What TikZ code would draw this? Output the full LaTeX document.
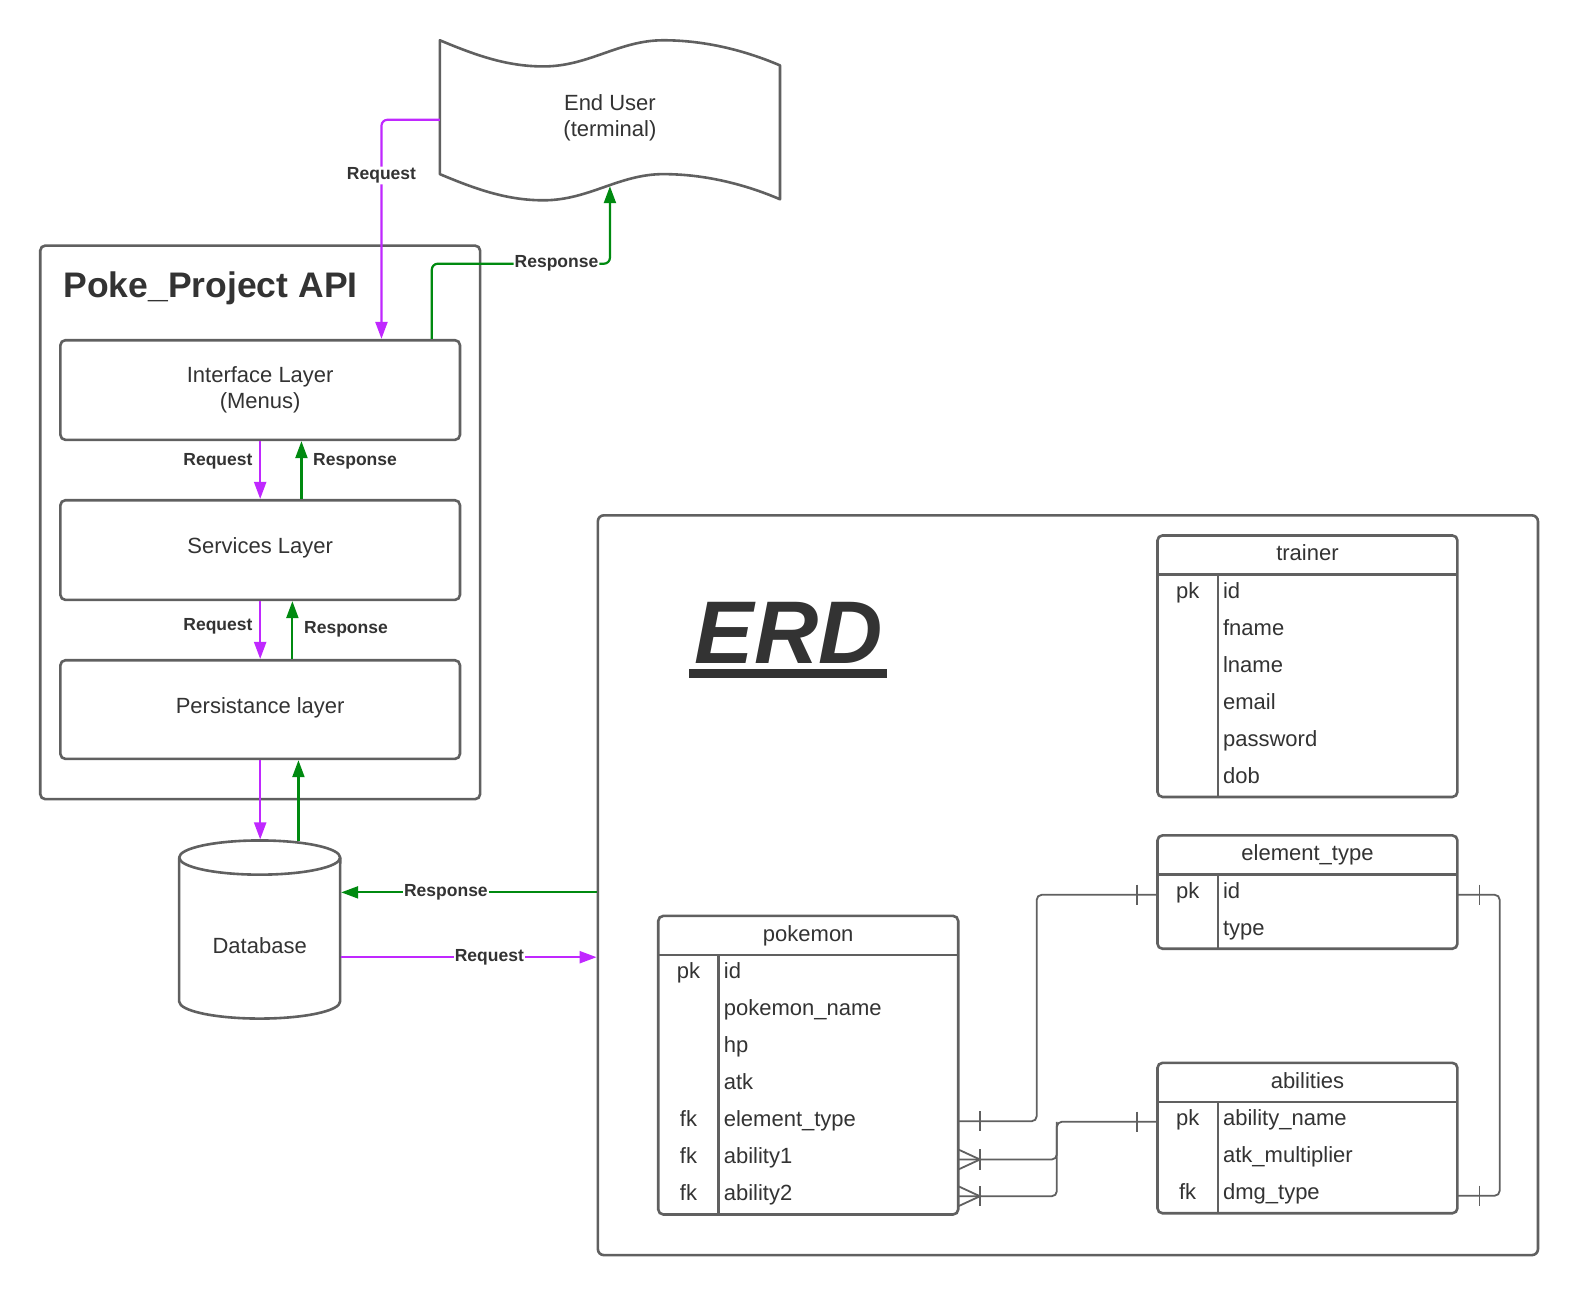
\documentclass[tikz,border=0pt]{standalone}
\usepackage{fontspec}
\setmainfont{Liberation Sans}
\usetikzlibrary{arrows.meta,fit,calc}
\definecolor{pur}{RGB}{192,40,255}
\definecolor{grn}{RGB}{0,138,16}
\definecolor{edgec}{RGB}{96,96,96}
\definecolor{ink}{RGB}{51,51,51}
\newcommand{\erdtable}[6]{%
  \pgfmathsetmacro{\erdbot}{#3+39+36.8*#5}%
  \node[tbl, fit={(#2,#3) (#2+298,\erdbot)}] (#1) {};
  \draw[tblline] (#2,#3+39) -- (#2+298,#3+39);
  \draw[tblline] (#2+60,#3+39) -- (#2+60,\erdbot);
  \node[tbltxt, anchor=base] (#1-t) at (#2+149,#3+25) {#4};
  \foreach \ekey/\efield [count=\ei] in {#6} {
    \node[tbltxt, anchor=base] (#1-k\ei) at (#2+30,#3+39+36.8*\ei-13.4) {\ekey};
    \node[tbltxt, anchor=base west] (#1-f\ei) at (#2+65,#3+39+36.8*\ei-13.4) {\efield};
  }%
}
\newcommand{\onebar}[2]{\draw[relc] (#1,#2-10) -- (#1,#2+10);}
\newcommand{\crowfoot}[2]{\draw[relc] (#1,#2-10) -- (#1+21.6,#2) -- (#1,#2+10);}
\begin{document}
\begin{tikzpicture}[x=1.0065pt,y=-1.0065pt,
  shp/.style={draw=edgec, line width=2.6pt, line join=round},
  box/.style={draw=edgec, line width=2.6pt, rounded corners=5pt, inner sep=0pt},
  txt/.style={text=ink, font=\fontsize{22}{26}\selectfont, inner sep=0pt},
  tbl/.style={draw=edgec, line width=2.6pt, rounded corners=5pt, inner sep=0pt},
  tblline/.style={draw=edgec, line width=2.6pt},
  tbltxt/.style={text=ink, font=\fontsize{22}{26}\selectfont, inner sep=0pt},
  req/.style={draw=pur, line width=2.2pt, -{Triangle[length=17pt,width=12pt]}},
  rsp/.style={draw=grn, line width=2.2pt, -{Triangle[length=17pt,width=12pt]}},
  lbl/.style={fill=white, text=ink, font=\fontsize{17.5}{20}\selectfont\bfseries, inner sep=1pt},
  lbl2/.style={text=ink, font=\fontsize{17.5}{20}\selectfont\bfseries, inner sep=0pt},
  rel/.style={draw=edgec, line width=1.8pt, rounded corners=5pt},
  relc/.style={draw=edgec, line width=1.8pt}]
\fill[white] (0,0) rectangle (1568.8,1287.6);
\useasboundingbox (0,0) rectangle (1568.8,1287.6);

% End user (wavy document)
\draw[shp] (437,40) .. controls (475,56) and (505,66) .. (540,66)
  .. controls (585,66) and (615,40) .. (659,40)
  .. controls (700,40) and (740,50) .. (775,65) -- (775,198)
  .. controls (740,183) and (700,173) .. (659,173)
  .. controls (615,173) and (585,199) .. (540,199)
  .. controls (505,199) and (475,189) .. (437,173) -- cycle;
\node[txt, align=center] (eu) at (606,117.5) {End User\\(terminal)};

% API box
\node[box, fit={(40,244) (477,794)}] (api) {};
\node[anchor=base west, inner sep=0pt, text=ink, font=\fontsize{35.5}{40}\selectfont\bfseries] (apit) at (63,296) {Poke\_Project API};
\node[box, fit={(60,338) (457,437)}] (iface) {};
\node[box, fit={(60,497) (457,596)}] (services) {};
\node[box, fit={(60,656) (457,754)}] (persist) {};
\node[txt, align=center] (ifacet) at (258.5,387.5) {Interface Layer\\(Menus)};
\node[txt, anchor=base] (servicest) at (258.5,550) {Services Layer};
\node[txt, anchor=base] (persistt) at (258.5,709) {Persistance layer};

% Database
\draw[shp, fill=white] (178,852) -- (178,995) arc[start angle=180, end angle=360, x radius=80.5pt, y radius=17.1pt] -- (338,852);
\draw[shp] (258,852) ellipse [x radius=80.5pt, y radius=17.1pt];
\node[txt] (db) at (258,940) {Database};

% coordinates
\coordinate (reqx) at (379,0);
\coordinate (rspx) at (429,0);
\coordinate (euL) at (437,119);
\coordinate (euB) at (606,185);
\coordinate (r1x) at (299.5,0);
\coordinate (r2x) at (290.5,0);
\coordinate (dbTop) at (258.5,834);
\coordinate (dbG) at (296.5,836);
\coordinate (dbR1) at (339,886.6);
\coordinate (dbR2) at (339,951);

% request/response connectors
\draw[req, rounded corners=6pt] (euL) -| node[lbl, pos=0.627]{Request} (iface.north -| reqx);
\draw[rsp, rounded corners=6pt] (iface.north -| rspx) |- node[lbl, pos=0.85]{Response} (606,262) -- (euB);
\draw[req] (iface.south) -- (services.north);
\draw[rsp] (services.north -| r1x) -- (iface.south -| r1x);
\node[lbl2, anchor=east] (lq1) at (251,458) {Request};
\node[lbl2, anchor=west] (lr1) at (311,458) {Response};
\draw[req] (services.south) -- (persist.north);
\draw[rsp] (persist.north -| r2x) -- (services.south -| r2x);
\node[lbl2, anchor=east] (lq2) at (251,622) {Request};
\node[lbl2, anchor=west] (lr2) at (302,625.5) {Response};
\draw[req] (persist.south) -- (dbTop);
\draw[rsp] (dbG) -- (persist.south -| dbG);

% ERD frame
\node[tbl, fit={(594,512) (1528,1247)}, rounded corners=6pt] (erd) {};
\draw[rsp] (erd.west |- dbR1) -- node[lbl, pos=0.59]{Response} (dbR1);
\draw[req] (dbR2) -- node[lbl, pos=0.58]{Request} (erd.west |- dbR2);

\node[anchor=base west, inner sep=0pt, text=ink, font=\fontsize{89}{94}\selectfont\bfseries\itshape] (erdt) at (690,659) {ERD};
\fill[ink] (685,665) rectangle (881,674);

% tables
\erdtable{trainer}{1150}{532}{trainer}{6}{pk/id,{}/fname,{}/lname,{}/email,{}/password,{}/dob}
\erdtable{eltype}{1150}{830}{element\_type}{2}{pk/id,{}/type}
\erdtable{abil}{1150}{1056}{abilities}{3}{pk/ability\_name,{}/atk\_multiplier,fk/dmg\_type}
\erdtable{pkm}{654}{910}{pokemon}{7}{pk/id,{}/pokemon\_name,{}/hp,{}/atk,fk/element\_type,fk/ability1,fk/ability2}

% relationships
\coordinate (pkmET) at (951,1114);
\coordinate (pkmA1) at (951,1152);
\coordinate (pkmA2) at (951,1188.5);
\coordinate (etL) at (1150,889);
\coordinate (etR) at (1448,889);
\coordinate (abL) at (1150,1114.5);
\coordinate (abR) at (1448,1188);
\draw[rel] (pkmET) -- (1030,1114) -- (1030,889) -- (etL);
\draw[rel] (pkmA1) -- (1050,1152) -- (1050,1114.5) -- (abL);
\draw[rel] (pkmA2) -- (1050,1188.5) -- (1050,1114.5);
\draw[rel] (etR) -- (1490,889) -- (1490,1188) -- (abR);
\onebar{973.6}{1114}
\onebar{1129.7}{889}
\onebar{1129.7}{1114.5}
\onebar{1470}{889}
\onebar{1470}{1188}
\onebar{973.6}{1152}
\onebar{973.6}{1188.5}
\crowfoot{952}{1152}
\crowfoot{952}{1188.5}
\end{tikzpicture}
\end{document}
